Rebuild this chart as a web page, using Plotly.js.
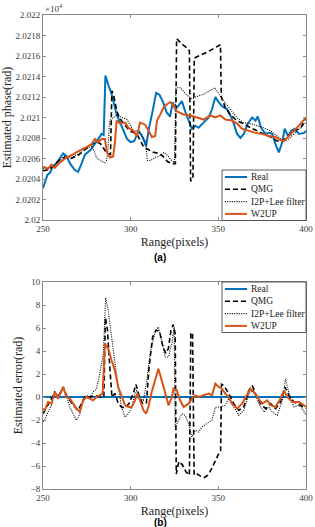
<!DOCTYPE html>
<html>
<head>
<meta charset="utf-8">
<script src="https://cdn.plot.ly/plotly-3.0.1.min.js"></script>
<style>
  html, body { margin: 0; padding: 0; background: #fff; }
  #chart { width: 315px; height: 527px; }
</style>
</head>
<body>
<div id="chart"></div>
<script>
// ---- (a) estimated phase, in units of 1e4 rad ----
const realX = [250, 251.5, 252.5, 254, 255.5, 257.5, 259.5, 261.5, 263.5, 265.5, 268, 270, 272, 274, 277, 279.5, 281.5, 283.5, 284.6, 285.6, 287.4, 289.3, 292, 294, 296, 298, 300, 302, 304.5, 306.5, 308.8, 310.5, 312.5, 314.5, 316.5, 318.5, 320.5, 322.5, 324, 325.4, 327.5, 329.2, 331.1, 333, 334.9, 336.8, 338.7, 341.6, 344.5, 346.4, 348.3, 350.2, 352.1, 355, 356.9, 358.8, 360.7, 362.6, 364.5, 366.8, 369.3, 371.2, 372.5, 374.4, 376.9, 378.8, 380.7, 382.6, 384.5, 386.5, 387.8, 389.7, 391.6, 393.5, 396, 398.9, 400];
const realPhase = [2.02031, 2.02038, 2.02044, 2.02046, 2.02052, 2.02055, 2.02060, 2.02065, 2.02062, 2.02055, 2.02049, 2.02047, 2.02055, 2.02064, 2.02068, 2.02074, 2.02079, 2.02084, 2.02083, 2.02141, 2.02131, 2.02122, 2.02103, 2.02095, 2.02088, 2.02079, 2.02076, 2.02077, 2.02087, 2.02082, 2.02072, 2.02090, 2.02106, 2.02124, 2.02122, 2.02115, 2.02105, 2.02101, 2.02115, 2.02108, 2.02112, 2.02116, 2.02106, 2.02097, 2.02089, 2.02092, 2.02090, 2.02095, 2.02100, 2.02108, 2.02120, 2.02115, 2.02111, 2.02108, 2.02102, 2.02094, 2.02084, 2.02080, 2.02084, 2.02094, 2.02100, 2.02097, 2.02101, 2.02090, 2.02084, 2.02085, 2.02084, 2.02074, 2.02066, 2.02076, 2.02089, 2.02082, 2.02087, 2.02089, 2.02084, 2.02085, 2.02087];

const qmgX = [250, 253, 255.5, 259, 262, 266, 270, 273.5, 277, 280, 282.5, 284.5, 286.5, 288.5, 289.3, 290.5, 292, 293.5, 296, 299.5, 303.5, 307.5, 310.5, 313, 316, 318.5, 321, 323.5, 325.5, 326.2, 329, 332, 333.5, 334.2, 335.5, 336.3, 340, 344, 348, 351.2, 351.7, 353.9, 356.7, 360.5, 364.4, 368.3, 372.1, 375.9, 379.8, 383.6, 386.5, 389.4, 393.3, 397.1, 400];
const qmgPhase = [2.02048, 2.02049, 2.02052, 2.02058, 2.02061, 2.02060, 2.02063, 2.02068, 2.02073, 2.02076, 2.02075, 2.02070, 2.02065, 2.02064, 2.02126, 2.02120, 2.02107, 2.02100, 2.02094, 2.02087, 2.02084, 2.02071, 2.02068, 2.02066, 2.02065, 2.02062, 2.02057, 2.02055, 2.02055, 2.02177, 2.02172, 2.02168, 2.02165, 2.02038, 2.02040, 2.02158, 2.02161, 2.02164, 2.02168, 2.02171, 2.02120, 2.02110, 2.02103, 2.02097, 2.02094, 2.02090, 2.02087, 2.02084, 2.02081, 2.02077, 2.02077, 2.02081, 2.02087, 2.02090, 2.02100];

const i2pX = [250, 253, 256, 259, 262, 266, 270, 274, 278, 280.5, 282.5, 285.3, 286.2, 287, 288, 290, 292, 295, 298, 301.5, 304.5, 306.5, 308.5, 309.5, 311.3, 314, 317, 319, 321, 323.5, 325, 325.8, 328.5, 331.3, 335, 337, 339, 342, 345, 348, 350, 353, 356.8, 360.6, 364.4, 368.2, 372, 375.9, 379.7, 383.5, 387.3, 390.2, 393, 396.8, 400];
const i2pPhase = [2.02050, 2.02050, 2.02053, 2.02058, 2.02062, 2.02061, 2.02064, 2.02069, 2.02072, 2.02061, 2.02058, 2.02056, 2.02058, 2.02068, 2.02097, 2.02100, 2.02102, 2.02100, 2.02098, 2.02087, 2.02087, 2.02082, 2.02077, 2.02058, 2.02058, 2.02061, 2.02063, 2.02066, 2.02063, 2.02058, 2.02056, 2.02129, 2.02129, 2.02123, 2.02118, 2.02120, 2.02121, 2.02123, 2.02126, 2.02129, 2.02124, 2.02116, 2.02108, 2.02100, 2.02095, 2.02094, 2.02092, 2.02090, 2.02087, 2.02082, 2.02077, 2.02079, 2.02084, 2.02090, 2.02095];

const w2upX = [250, 252.9, 254.8, 256.7, 259.5, 263.4, 267.2, 271, 274.8, 277.7, 279.6, 281.5, 283.4, 285.3, 286.5, 288.2, 290, 291, 292, 294, 296.9, 298.7, 301.6, 303.5, 305.4, 308.3, 310.2, 312.1, 314, 315, 316.9, 318.8, 320.7, 322.6, 324.5, 326.3, 330.2, 334, 337.8, 341.6, 345.4, 348.3, 351.1, 354, 357.8, 360.7, 363.5, 367.4, 371.2, 375, 378.8, 382.6, 385.5, 387.4, 390.3, 393.1, 397, 400];
const w2upPhase = [2.02052, 2.02050, 2.02054, 2.02051, 2.02056, 2.02061, 2.02064, 2.02068, 2.02071, 2.02074, 2.02079, 2.02076, 2.02079, 2.02079, 2.02066, 2.02061, 2.02062, 2.02075, 2.02097, 2.02094, 2.02095, 2.02090, 2.02087, 2.02082, 2.02095, 2.02093, 2.02087, 2.02081, 2.02082, 2.02097, 2.02103, 2.02110, 2.02113, 2.02115, 2.02112, 2.02106, 2.02103, 2.02102, 2.02100, 2.02098, 2.02102, 2.02100, 2.02102, 2.02098, 2.02097, 2.02094, 2.02089, 2.02087, 2.02085, 2.02084, 2.02082, 2.02081, 2.02078, 2.02077, 2.02082, 2.02087, 2.02094, 2.02100];

// ---- (b) estimated error, rad ----
const realErrX = [250, 400];
const realErr = [0, 0];

const qmgErrX = [250, 251.9, 253.8, 256.7, 258.6, 261.5, 263.4, 265.3, 267.2, 270, 271.9, 273.9, 276.7, 279.6, 282.4, 284.7, 285.6, 286.8, 287.7, 288.6, 289.3, 291, 293, 295, 297, 299, 301.5, 303, 305, 307, 309, 310.5, 312.5, 314.5, 316.5, 318, 320, 321.5, 323, 324.3, 325.4, 326, 327.5, 329.5, 331.5, 333.5, 334.3, 335.3, 336.2, 338, 340, 342, 344, 346, 348, 350, 351.3, 351.8, 353.1, 356, 358.8, 361.6, 364.5, 367.4, 369.3, 371.2, 374.1, 377, 379.8, 382.7, 385.5, 388, 390.3, 393.1, 397, 400];
const qmgErr = [-1.45, -0.87, -0.43, 0.43, 0, 0.87, 0.14, -0.29, -0.72, -1.16, -0.58, 0, 0, 0.14, 0, 0.06, 6.9, 5.8, 3.5, 1.2, 0, 0.3, -0.6, -0.9, -0.9, -0.6, 0.3, 1.1, 0, -0.6, -0.5, 2.6, 5.2, 5.8, 5.7, 4.6, 3.8, 4.2, 5.8, 6.3, 5.5, -6.7, -5.6, -5.9, -6.5, -6.8, 5.5, 5.6, -6.8, -6.7, -6.9, -7.0, -6.8, -6.3, -5.6, -5.0, -4.7, 1.1, 1.01, 0.29, -0.58, -1.16, -0.87, 0.58, 1.01, 0.29, -0.58, -1.01, -0.58, -1.01, -0.43, 0.87, 0.14, -0.43, -0.72, -1.01];

const i2pErrX = [250, 251, 252.9, 254.8, 256.7, 258.6, 260.5, 261.5, 263.4, 265.3, 267.2, 269.1, 271, 272.9, 274.8, 276.7, 278.6, 280.5, 282.4, 284.4, 285.7, 287.2, 289.1, 291, 292.9, 294.8, 296.8, 298.7, 300.6, 302.5, 303.4, 305.3, 307.3, 309.2, 311.1, 313.9, 315.8, 317.7, 319.7, 321.6, 323.5, 324.8, 325.4, 327.3, 329.2, 331.1, 333, 334.9, 336.8, 338.7, 340.6, 343.5, 346.4, 348.3, 351.1, 354, 355.9, 358.8, 361.6, 364.5, 367.4, 370.2, 373.1, 376, 378.8, 380.7, 383.6, 386.5, 388.4, 390.3, 393.1, 396, 397.9, 400];
const i2pErr = [-2.17, -2.03, -1.30, -0.72, 0.29, 0.14, 0.43, 0.72, 0.14, -0.87, -1.45, -2.03, -1.45, -0.14, 0.14, 0, 0.43, 0.72, 2.03, 3.77, 8.64, 7.54, 5.22, 2.9, 0.87, -0.87, -1.74, -1.45, -0.87, 0.29, 0.58, -0.14, -0.29, 1.45, 3.77, 5.65, 6.09, 4.93, 3.48, 3.48, 4.64, 6.09, -2.61, -2.03, -1.45, -1.59, -2.32, -3.48, -2.9, -3.04, -2.61, -2.3, -2.0, -0.9, -0.87, -0.72, -0.14, -0.87, -1.59, -1.16, 0.29, 0.58, -0.58, -1.30, -0.87, -1.30, -1.59, -0.29, 1.59, 0.29, -0.87, -0.72, -1.01, -1.59];

const w2upErrX = [250, 251, 252.9, 254.8, 256.7, 258.6, 261.5, 263.4, 265.3, 267.2, 269.1, 271, 272.9, 274.8, 276.7, 278.6, 280.5, 282.4, 284, 285.3, 287.2, 289.1, 291, 292.9, 294.8, 296.8, 298.7, 300.6, 302.5, 303.8, 305.3, 307.3, 308.8, 310.1, 312, 313.9, 315.8, 317.7, 319.7, 321.6, 323.5, 324.4, 326.3, 328.2, 330.2, 333, 334.9, 336.8, 338.7, 341.6, 344.5, 346.4, 348.3, 350.2, 352.1, 354, 355.9, 357.8, 360.7, 363.5, 366.4, 368.3, 370.2, 372.1, 375, 377.9, 379.8, 382.6, 385.5, 387.4, 389.3, 392.2, 396, 398.9, 400];
const w2upErr = [-1.01, -1.16, -0.43, -0.58, 0.43, -0.14, 0.87, 0, -0.14, -0.58, -1.01, -1.30, -0.29, 0, -0.14, -0.29, 0, 0.14, 0.29, 4.64, 4.2, 3.19, 2.32, 0.87, 0, -0.72, -0.87, -0.87, -0.29, 0.29, -0.29, -1.16, -1.45, -0.87, 0.43, 1.45, 2.46, 1.45, 0.29, -0.72, 0, 0.72, 0.58, -0.29, -0.87, -0.58, -0.14, 0.14, 0, 0.14, 0.29, 0.14, 1.16, 0.87, 0.72, 0.29, 0, -0.58, -1.01, -0.58, 0.29, 0.72, 0.43, 0, -0.58, -0.29, -0.72, -0.87, -0.14, 0.58, 0, -0.43, -0.43, -0.72, -0.87];

// ---- axes ticks ----
const rangeTicks = [250, 300, 350, 400];
const phaseTicks = [2.02, 2.0202, 2.0204, 2.0206, 2.0208, 2.021, 2.0212, 2.0214, 2.0216, 2.0218, 2.022];
const phaseTickText = ['2.02', '2.0202', '2.0204', '2.0206', '2.0208', '2.021', '2.0212', '2.0214', '2.0216', '2.0218', '2.022'];
const errTicks = [-8, -6, -4, -2, 0, 2, 4, 6, 8, 10];
const seriesNames = ['Real', 'QMG', 'I2P+Lee filter', 'W2UP'];

// ---- styling ----
const W = 315, H = 527;
const fx = p => p / W;
const fy = p => 1 - p / H;
const SERIF = 'Liberation Serif, Times New Roman, serif';
const AX = '#8a8a8a';
const TXT = '#3a3a3a';

const lineStyles = [
  { color: '#0072BD', width: 2, dash: 'solid' },
  { color: '#000000', width: 1.6, dash: '5px,3px' },
  { color: '#000000', width: 1.1, dash: '1px,1.3px' },
  { color: '#D95319', width: 2, dash: 'solid' }
];

const phaseSets = [[realX, realPhase], [qmgX, qmgPhase], [i2pX, i2pPhase], [w2upX, w2upPhase]];
const errSets = [[realErrX, realErr], [qmgErrX, qmgErr], [i2pErrX, i2pErr], [w2upErrX, w2upErr]];

const traces = [];
phaseSets.forEach((s, i) => traces.push({
  x: s[0], y: s[1], type: 'scatter', mode: 'lines', name: seriesNames[i],
  line: lineStyles[i], xaxis: 'x', yaxis: 'y', showlegend: false, hoverinfo: 'skip'
}));
errSets.forEach((s, i) => traces.push({
  x: s[0], y: s[1], type: 'scatter', mode: 'lines', name: seriesNames[i],
  line: lineStyles[i], xaxis: 'x2', yaxis: 'y2', showlegend: false, hoverinfo: 'skip'
}));

function axisBase() {
  return {
    showline: true, mirror: 'ticks', linecolor: AX, linewidth: 1,
    ticks: 'inside', ticklen: 3, tickcolor: AX, tickwidth: 1,
    showgrid: false, zeroline: false,
    tickfont: { family: SERIF, size: 9, color: TXT }
  };
}

const plotL = 43, plotR = 306;
const p1Top = 15, p1Bot = 220, p2Top = 282, p2Bot = 489;

// legend box drawn in the upper-right / lower-right corner of each panel
function legendParts(left, top) {
  const shapes = [], notes = [];
  const right = 306, rowH = 12.3, bottom = top + 50.5;
  shapes.push({ type: 'rect', xref: 'paper', yref: 'paper',
    x0: fx(left), x1: fx(right), y0: fy(bottom), y1: fy(top),
    line: { color: '#333', width: 0.8 }, fillcolor: '#ffffff', layer: 'above' });
  seriesNames.forEach((name, i) => {
    const yy = top + 7 + rowH * i;
    const st = lineStyles[i];
    shapes.push({ type: 'line', xref: 'paper', yref: 'paper',
      x0: fx(left + 3), x1: fx(left + 25), y0: fy(yy), y1: fy(yy),
      line: { color: st.color, width: st.width, dash: st.dash }, layer: 'above' });
    notes.push({ xref: 'paper', yref: 'paper', x: fx(left + 27), y: fy(yy),
      xanchor: 'left', yanchor: 'middle', showarrow: false, text: name,
      font: { family: SERIF, size: 9.5, color: '#222' } });
  });
  return { shapes, notes };
}

const lg1 = legendParts(222, 170);
const lg2 = legendParts(222, 282);

const layout = {
  width: W, height: H,
  margin: { l: 0, r: 0, t: 0, b: 0 },
  paper_bgcolor: '#ffffff', plot_bgcolor: '#ffffff',
  showlegend: false,
  xaxis: Object.assign(axisBase(), {
    domain: [fx(plotL), fx(plotR)], range: [250, 400], tickvals: rangeTicks, anchor: 'y',
    title: { text: 'Range(pixels)', font: { family: SERIF, size: 12, color: '#222' }, standoff: 4 }
  }),
  yaxis: Object.assign(axisBase(), {
    domain: [fy(p1Bot), fy(p1Top)], range: [2.02, 2.022], tickvals: phaseTicks, ticktext: phaseTickText, anchor: 'x',
    title: { text: 'Estimated phase(rad)', font: { family: SERIF, size: 12, color: '#222' }, standoff: 3 }
  }),
  xaxis2: Object.assign(axisBase(), {
    domain: [fx(plotL), fx(plotR)], range: [250, 400], tickvals: rangeTicks, anchor: 'y2',
    title: { text: 'Range(pixels)', font: { family: SERIF, size: 12, color: '#222' }, standoff: 4 }
  }),
  yaxis2: Object.assign(axisBase(), {
    domain: [fy(p2Bot), fy(p2Top)], range: [-8, 10], tickvals: errTicks, anchor: 'x2',
    title: { text: 'Estimated error(rad)', font: { family: SERIF, size: 12, color: '#222' }, standoff: 5 }
  }),
  shapes: lg1.shapes.concat(lg2.shapes),
  annotations: [
    { xref: 'paper', yref: 'paper', x: fx(43), y: fy(8), xanchor: 'left', yanchor: 'middle',
      showarrow: false, text: '×10<sup>4</sup>', font: { family: SERIF, size: 9, color: TXT } },
    { xref: 'paper', yref: 'paper', x: fx(160), y: fy(257), xanchor: 'center', yanchor: 'middle',
      showarrow: false, text: '<b>(a)</b>', font: { family: 'Liberation Sans, Arial, sans-serif', size: 10, color: '#000' } },
    { xref: 'paper', yref: 'paper', x: fx(160), y: fy(522), xanchor: 'center', yanchor: 'middle',
      showarrow: false, text: '<b>(b)</b>', font: { family: 'Liberation Sans, Arial, sans-serif', size: 10, color: '#000' } }
  ].concat(lg1.notes, lg2.notes)
};

Plotly.newPlot('chart', traces, layout, { staticPlot: true, displayModeBar: false });
</script>
</body>
</html>
